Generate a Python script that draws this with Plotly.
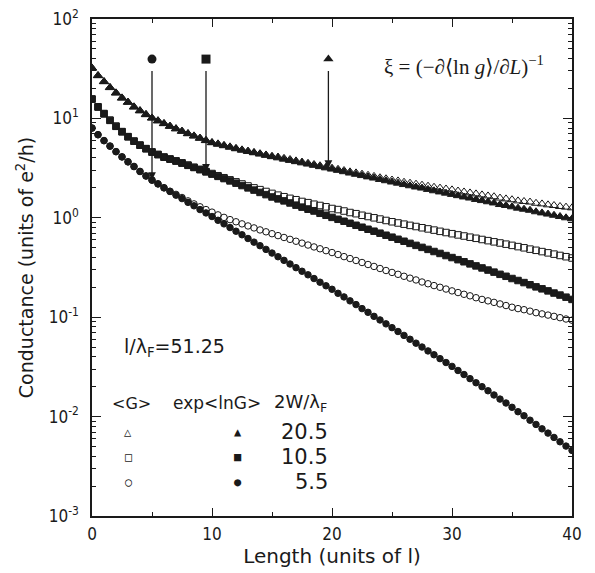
import math
import plotly.graph_objects as go

# ---------------- data ----------------
length = [i * 0.5 for i in range(81)]  # 0 .. 40 in steps of 0.5 (units of l)

# 2W/lambda_F = 20.5
G_tri_mean = [32.2, 27.0, 23.5, 20.5, 18.1, 16.1, 14.6, 13.1, 12.0, 11.0,
              10.1, 9.49, 8.89, 8.36, 7.89, 7.45, 7.05, 6.68, 6.34, 6.01,
              5.72, 5.55, 5.36, 5.18, 5.00, 4.83, 4.69, 4.55, 4.42, 4.29,
              4.16, 4.09, 3.97, 3.86, 3.74, 3.64, 3.54, 3.44, 3.34, 3.24,
              3.16, 3.08, 2.99, 2.90, 2.83, 2.75, 2.68, 2.61, 2.53, 2.47,
              2.40, 2.35, 2.28, 2.23, 2.18, 2.13, 2.08, 2.03, 1.99, 1.95,
              1.91, 1.86, 1.82, 1.78, 1.74, 1.70, 1.66, 1.63, 1.58, 1.55,
              1.52, 1.48, 1.46, 1.44, 1.40, 1.38, 1.35, 1.33, 1.30, 1.28, 1.26]
G_tri_geo = [32.0, 26.9, 23.4, 20.4, 18.0, 16.0, 14.5, 13.0, 11.9, 10.9,
             10.1, 9.44, 8.85, 8.32, 7.85, 7.41, 7.01, 6.65, 6.31, 5.98,
             5.69, 5.50, 5.31, 5.13, 4.95, 4.79, 4.65, 4.51, 4.38, 4.25,
             4.12, 4.01, 3.89, 3.78, 3.67, 3.57, 3.47, 3.37, 3.27, 3.18,
             3.09, 3.00, 2.91, 2.82, 2.74, 2.66, 2.58, 2.51, 2.43, 2.36,
             2.29, 2.23, 2.16, 2.10, 2.04, 1.99, 1.93, 1.87, 1.82, 1.77,
             1.72, 1.67, 1.62, 1.58, 1.53, 1.49, 1.45, 1.41, 1.36, 1.33,
             1.29, 1.25, 1.22, 1.19, 1.15, 1.12, 1.09, 1.06, 1.03, 1.00, 0.977]

# 2W/lambda_F = 10.5
G_sq_mean = [15.7, 13.1, 11.2, 9.60, 8.36, 7.37, 6.56, 5.92, 5.40, 4.97,
             4.60, 4.34, 4.09, 3.91, 3.74, 3.57, 3.39, 3.22, 3.07, 2.92,
             2.79, 2.65, 2.53, 2.41, 2.30, 2.19, 2.09, 2.00, 1.92, 1.84,
             1.76, 1.69, 1.63, 1.57, 1.52, 1.46, 1.42, 1.37, 1.33, 1.29,
             1.24, 1.21, 1.17, 1.13, 1.10, 1.06, 1.03, 1.00, 0.971, 0.940,
             0.912, 0.887, 0.863, 0.839, 0.817, 0.794, 0.773, 0.752, 0.731, 0.711,
             0.692, 0.673, 0.656, 0.638, 0.622, 0.605, 0.589, 0.573, 0.558, 0.543,
             0.528, 0.513, 0.499, 0.484, 0.471, 0.457, 0.444, 0.431, 0.418, 0.406, 0.394]
G_sq_geo = [15.6, 13.0, 11.1, 9.55, 8.32, 7.33, 6.53, 5.89, 5.37, 4.95,
            4.58, 4.32, 4.07, 3.89, 3.72, 3.55, 3.37, 3.21, 3.05, 2.90,
            2.75, 2.61, 2.48, 2.35, 2.23, 2.11, 2.00, 1.90, 1.80, 1.71,
            1.62, 1.55, 1.48, 1.41, 1.34, 1.28, 1.22, 1.17, 1.11, 1.06,
            1.01, 0.966, 0.923, 0.881, 0.841, 0.804, 0.767, 0.733, 0.700, 0.668,
            0.638, 0.608, 0.581, 0.553, 0.528, 0.504, 0.481, 0.458, 0.438, 0.417,
            0.398, 0.379, 0.361, 0.344, 0.328, 0.313, 0.298, 0.284, 0.270, 0.258,
            0.245, 0.234, 0.223, 0.212, 0.202, 0.193, 0.184, 0.175, 0.167, 0.159, 0.151]

# 2W/lambda_F = 5.5
G_ci_mean = [8.02, 6.87, 5.99, 5.28, 4.64, 4.11, 3.67, 3.29, 2.93, 2.64,
             2.40, 2.20, 2.01, 1.85, 1.72, 1.60, 1.48, 1.38, 1.29, 1.21,
             1.14, 1.07, 1.01, 0.959, 0.912, 0.869, 0.828, 0.791, 0.755, 0.723,
             0.692, 0.662, 0.634, 0.607, 0.581, 0.556, 0.532, 0.509, 0.488, 0.467,
             0.447, 0.427, 0.407, 0.389, 0.372, 0.355, 0.339, 0.324, 0.309, 0.295,
             0.282, 0.270, 0.258, 0.247, 0.237, 0.226, 0.217, 0.208, 0.200, 0.192,
             0.184, 0.177, 0.170, 0.164, 0.157, 0.151, 0.146, 0.141, 0.136, 0.131,
             0.126, 0.122, 0.119, 0.115, 0.111, 0.108, 0.105, 0.102, 0.0989, 0.0959, 0.0933]
G_ci_geo = [7.98, 6.84, 5.96, 5.25, 4.62, 4.09, 3.65, 3.27, 2.92, 2.63,
            2.39, 2.19, 2.00, 1.84, 1.69, 1.56, 1.43, 1.32, 1.21, 1.12,
            1.03, 0.944, 0.869, 0.798, 0.733, 0.675, 0.619, 0.569, 0.524, 0.481,
            0.442, 0.406, 0.373, 0.343, 0.315, 0.290, 0.267, 0.245, 0.225, 0.207,
            0.191, 0.174, 0.160, 0.146, 0.134, 0.122, 0.112, 0.102, 0.0938, 0.0857,
            0.0785, 0.0718, 0.0656, 0.0600, 0.0548, 0.0501, 0.0458, 0.0419, 0.0383, 0.0350,
            0.0320, 0.0291, 0.0265, 0.0241, 0.0219, 0.0200, 0.0182, 0.0165, 0.0150, 0.0137,
            0.0124, 0.0112, 0.0102, 0.00920, 0.00834, 0.00753, 0.00682, 0.00617, 0.00558, 0.00505, 0.00457]

# localisation-length arrows: position (L = xi), marker level, arrow start and tip
xi_length = [5.0, 9.5, 19.7]
xi_symbols = ["circle", "square", "triangle-up"]
xi_marker_G = [39.5, 39.5, 39.5]
xi_start_G = [31.0, 31.0, 31.0]
xi_tip_G = [2.4, 2.9, 3.16]

y_tickvals = [1e-3, 1e-2, 1e-1, 1e0, 1e1, 1e2]
y_ticktext = ["10<sup>-3</sup>", "10<sup>-2</sup>", "10<sup>-1</sup>",
              "10<sup>0</sup>", "10<sup>1</sup>", "10<sup>2</sup>"]
y_minor_tickvals = [k * d for d in [1e-3, 1e-2, 1e-1, 1e0, 1e1] for k in range(2, 10)]
x_tickvals = [0, 10, 20, 30, 40]

legend_widths = ["20.5", "10.5", "5.5"]
legend_open = ["△", "□", "○"]
legend_filled = ["▲", "■", "●"]

# ---------------- figure ----------------
FONT = "DejaVu Sans, sans-serif"
TICKFONT = "DejaVu Sans Condensed, DejaVu Sans, sans-serif"
SYMFONT = "DejaVu Sans Mono, DejaVu Sans"
INK = "#1a1a1a"

fig = go.Figure()

series = [
    (G_tri_mean, "triangle-up-open", 8),
    (G_sq_mean, "square-open", 6.5),
    (G_ci_mean, "circle-open", 6.5),
    (G_tri_geo, "triangle-up", 8),
    (G_sq_geo, "square", 6.5),
    (G_ci_geo, "circle", 6.5),
]
for yv, sym, sz in series:
    fig.add_trace(go.Scatter(
        x=length, y=yv, mode="markers",
        marker=dict(symbol=sym, size=sz, color=INK,
                    line=dict(width=1, color=INK)),
        showlegend=False, hoverinfo="skip"))

fig.add_trace(go.Scatter(
    x=xi_length, y=xi_marker_G, mode="markers",
    marker=dict(symbol=xi_symbols, size=9, color=INK),
    showlegend=False, hoverinfo="skip"))


def note(x, y, text, size, family=FONT, xanchor="center"):
    return dict(x=x, y=y, xref="paper", yref="paper", xanchor=xanchor,
                yanchor="middle", showarrow=False, text=text,
                font=dict(family=family, size=size, color=INK))


annotations = []
for xv, y0, y1 in zip(xi_length, xi_start_G, xi_tip_G):
    annotations.append(dict(
        x=xv, y=math.log10(y1), ax=xv, ay=math.log10(y0),
        xref="x", yref="y", axref="x", ayref="y",
        showarrow=True, arrowhead=2, arrowsize=1.2, arrowwidth=1.3,
        arrowcolor=INK, text=""))

annotations.append(note(0.775, 0.907,
                        "ξ = (−∂⟨ln <i>g</i>⟩/∂<i>L</i>)<sup>−1</sup>", 21,
                        family="Liberation Serif, DejaVu Serif, serif"))
annotations.append(note(0.0625, 0.34, "l/λ<sub>F</sub>=51.25", 19, xanchor="left"))

hdr_y = 0.227
annotations.append(note(0.083, hdr_y, "&lt;G&gt;", 16))
annotations.append(note(0.356, hdr_y, "exp&lt;lnG&gt;", 17, xanchor="right"))
annotations.append(note(0.375, hdr_y, "2W/λ<sub>F</sub>", 18, xanchor="left"))

row_y = [0.169, 0.119, 0.068]
for w, so, sf, ry in zip(legend_widths, legend_open, legend_filled, row_y):
    annotations.append(note(0.075, ry, so, 12, family=SYMFONT))
    annotations.append(note(0.304, ry, sf, 12, family=SYMFONT))
    annotations.append(note(0.496, ry, w, 21, xanchor="right"))

fig.update_layout(
    width=595, height=573,
    margin=dict(l=92, r=23, t=19, b=57, autoexpand=False),
    paper_bgcolor="white", plot_bgcolor="white",
    font=dict(family=FONT, size=16, color=INK),
    annotations=annotations,
    xaxis=dict(
        range=[0, 40], tickvals=x_tickvals, ticks="inside", ticklen=8,
        tickwidth=1.2, tickcolor=INK, showline=True, linecolor=INK, linewidth=1.6,
        mirror="ticks", showgrid=False, zeroline=False, automargin=False,
        minor=dict(dtick=5, ticks="inside", ticklen=4, tickcolor=INK, showgrid=False),
        tickfont=dict(family=TICKFONT, size=17), ticklabelstandoff=2,
        title=dict(text="Length (units of l)", font=dict(family=FONT, size=20), standoff=4)),
    yaxis=dict(
        type="log", range=[-3, 2], tickvals=y_tickvals, ticktext=y_ticktext,
        ticks="inside", ticklen=9, tickwidth=1.2, tickcolor=INK,
        showline=True, linecolor=INK, linewidth=1.6, mirror="ticks",
        showgrid=False, zeroline=False, automargin=False,
        minor=dict(tickvals=y_minor_tickvals, ticks="inside", ticklen=4,
                   tickcolor=INK, showgrid=False),
        tickfont=dict(family=TICKFONT, size=17), ticklabelstandoff=8,
        title=dict(text="Conductance (units of e<sup>2</sup>/h)",
                   font=dict(family=FONT, size=19), standoff=10)),
)

fig.write_html("out.html", config={"displayModeBar": False},
               post_script="document.body.style.margin='0px';")
